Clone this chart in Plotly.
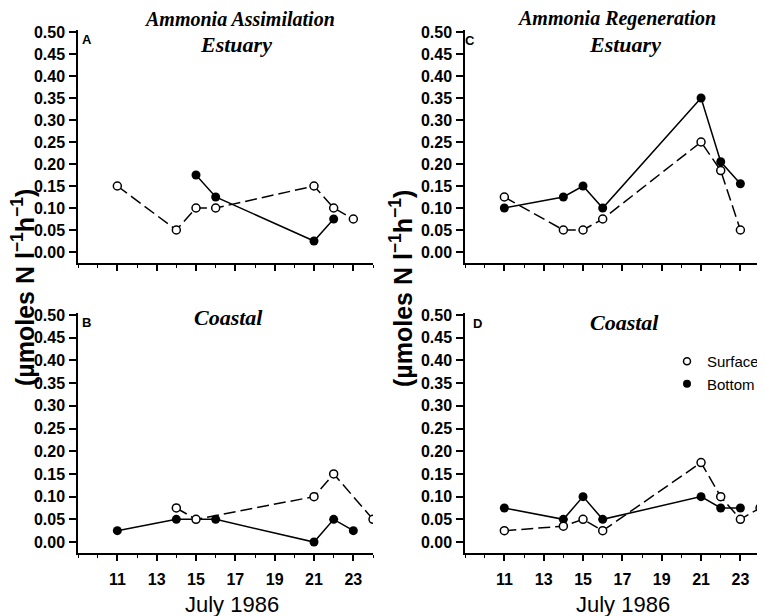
import plotly.graph_objects as go

# ---- data (July 1986 day, µmoles N l-1 h-1) ----
days_A_surf = [11, 14, 15, 16, 21, 22, 23]
A_surf = [0.15, 0.05, 0.10, 0.10, 0.15, 0.10, 0.075]
days_A_bot = [15, 16, 21, 22]
A_bot = [0.175, 0.125, 0.025, 0.075]

days_B_surf = [14, 15, 21, 22, 24]
B_surf = [0.075, 0.05, 0.10, 0.15, 0.05]
days_B_bot = [11, 14, 16, 21, 22, 23]
B_bot = [0.025, 0.05, 0.05, 0.0, 0.05, 0.025]

days_C = [11, 14, 15, 16, 21, 22, 23]
C_surf = [0.125, 0.05, 0.05, 0.075, 0.25, 0.185, 0.05]
C_bot = [0.10, 0.125, 0.15, 0.10, 0.35, 0.205, 0.155]

days_D_surf = [11, 14, 15, 16, 21, 22, 23, 24]
D_surf = [0.025, 0.035, 0.05, 0.025, 0.175, 0.10, 0.05, 0.075]
days_D_bot = [11, 14, 15, 16, 21, 22, 23]
D_bot = [0.075, 0.05, 0.10, 0.05, 0.10, 0.075, 0.075]

x_ticks = [11, 13, 15, 17, 19, 21, 23]
y_ticks = [0.00, 0.05, 0.10, 0.15, 0.20, 0.25, 0.30, 0.35, 0.40, 0.45, 0.50]
y_label = "(µmoles N l<sup>−1</sup>h<sup>−1</sup>)"
x_label = "July 1986"

# page body has an 8px margin; figure is sized to fill the rest of the window
OFF = 8
W, H = 765 - OFF, 616 - OFF
SANS = "Liberation Sans, Arial, sans-serif"
SERIF = "Liberation Serif, Times New Roman, serif"

fig = go.Figure()

panels = [
    ("x", "y", days_A_surf, A_surf, days_A_bot, A_bot),
    ("x2", "y2", days_B_surf, B_surf, days_B_bot, B_bot),
    ("x3", "y3", days_C, C_surf, days_C, C_bot),
    ("x4", "y4", days_D_surf, D_surf, days_D_bot, D_bot),
]
for xa, ya, xs, ys, xb, yb in panels:
    fig.add_trace(go.Scatter(
        x=xb, y=yb, xaxis=xa, yaxis=ya, mode="lines+markers", showlegend=False,
        line=dict(color="black", width=1.5),
        marker=dict(symbol="circle", size=9, color="black"),
    ))
    fig.add_trace(go.Scatter(
        x=xs, y=ys, xaxis=xa, yaxis=ya, mode="lines+markers", showlegend=False,
        line=dict(color="black", width=1.5, dash="12px,5px"),
        marker=dict(symbol="circle", size=8, color="white", line=dict(color="black", width=1.5)),
    ))

# legend-only entries
fig.add_trace(go.Scatter(x=[None], y=[None], xaxis="x4", yaxis="y4", mode="markers", name="Surface",
                         marker=dict(symbol="circle", size=7, color="white", line=dict(color="black", width=1.5))))
fig.add_trace(go.Scatter(x=[None], y=[None], xaxis="x4", yaxis="y4", mode="markers", name="Bottom",
                         marker=dict(symbol="circle", size=8, color="black")))

def px_x(p):
    return (p - OFF) / W

def px_y(p):
    return 1 - (p - OFF) / H

xdom_left = [px_x(78), px_x(373)]
xdom_right = [px_x(465), px_x(764)]
ydom_top = [px_y(263), px_y(29.8)]
ydom_bot = [px_y(553.4), px_y(312.7)]

def xaxis(dom, rng, labels, anchor):
    return dict(domain=dom, range=rng, anchor=anchor, automargin=False, showline=True, linecolor="black",
                linewidth=1.5, showgrid=False, zeroline=False, ticks="outside", ticklen=6, tickwidth=1.5,
                tickcolor="black", tickmode="array", tickvals=x_ticks, ticktext=[str(v) for v in x_ticks],
                showticklabels=labels, ticklabelstandoff=5,
                tickfont=dict(family=SANS, size=16, color="black", weight="bold"),
                minor=dict(dtick=1, tick0=9, ticks="outside", ticklen=3, tickwidth=1.2, tickcolor="black"))

def yaxis(dom, anchor):
    return dict(domain=dom, range=[-0.025, 0.505], anchor=anchor, automargin=False, showline=True,
                linecolor="black", linewidth=1.5, showgrid=False, zeroline=False, ticks="outside",
                ticklen=7, tickwidth=1.5, tickcolor="black", tickmode="array", tickvals=y_ticks,
                ticktext=["%.2f" % v for v in y_ticks], ticklabelstandoff=1,
                tickfont=dict(family=SANS, size=16, color="black", weight="bold"))

fig.update_layout(
    width=W, height=H, margin=dict(l=0, r=0, t=0, b=0, autoexpand=False),
    paper_bgcolor="white", plot_bgcolor="white",
    xaxis=xaxis(xdom_left, [9, 24], False, "y"),
    yaxis=yaxis(ydom_top, "x"),
    xaxis2=xaxis(xdom_left, [9, 24], True, "y2"),
    yaxis2=yaxis(ydom_bot, "x2"),
    xaxis3=xaxis(xdom_right, [9, 24.2], False, "y3"),
    yaxis3=yaxis(ydom_top, "x3"),
    xaxis4=xaxis(xdom_right, [9, 24.2], True, "y4"),
    yaxis4=yaxis(ydom_bot, "x4"),
    showlegend=True,
    legend=dict(x=px_x(667), y=px_y(345), xanchor="left", yanchor="top", bgcolor="rgba(0,0,0,0)",
                font=dict(family=SANS, size=15, color="black"), itemwidth=30, tracegroupgap=0),
)

ann = []
def text(x, y, t, font, size, italic=False, bold=False, angle=0):
    ann.append(dict(x=px_x(x), y=px_y(y), xref="paper", yref="paper", text=t, showarrow=False,
                    xanchor="center", yanchor="middle", textangle=angle,
                    font=dict(family=font, size=size, color="black",
                              style="italic" if italic else "normal",
                              weight="bold" if bold else "normal")))

text(239, 19, "Ammonia Assimilation", SERIF, 20, italic=True, bold=True)
text(236, 45, "Estuary", SERIF, 22, italic=True, bold=True)
text(616, 19, "Ammonia Regeneration", SERIF, 20, italic=True, bold=True)
text(625, 45, "Estuary", SERIF, 22, italic=True, bold=True)
text(228, 318, "Coastal", SERIF, 22, italic=True, bold=True)
text(624, 322, "Coastal", SERIF, 22, italic=True, bold=True)
text(87, 40, "A", SANS, 13, bold=True)
text(470, 41, "C", SANS, 13, bold=True)
text(86, 322, "B", SANS, 13, bold=True)
text(477, 323, "D", SANS, 13, bold=True)
text(23, 288, y_label, SANS, 25, bold=True, angle=-90)
text(401, 288, y_label, SANS, 25, bold=True, angle=-90)
text(232, 604, x_label, SANS, 22)
text(623, 604, x_label, SANS, 22)
fig.update_layout(annotations=ann)

fig.write_html("out.html")
